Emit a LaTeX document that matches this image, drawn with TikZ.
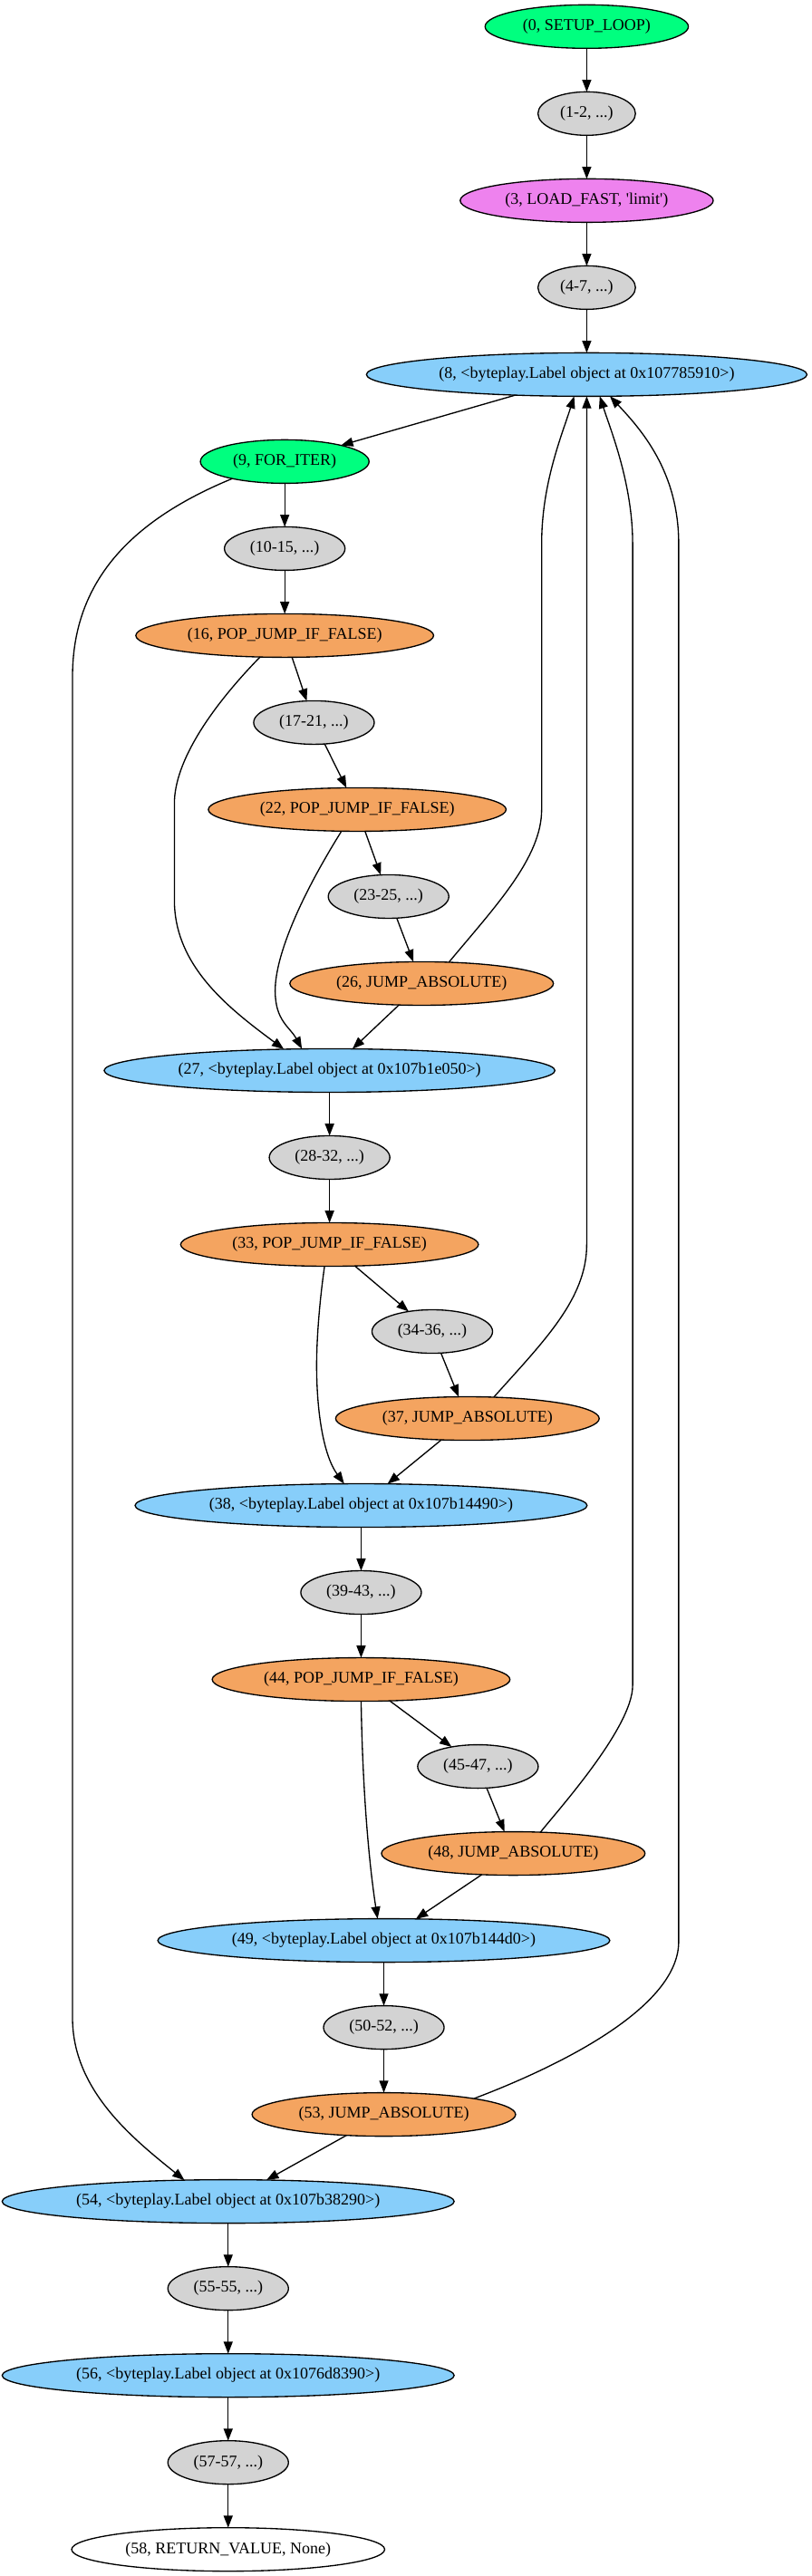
\documentclass[tikz,border=0pt]{standalone}
\usepackage{fontspec}
\setmainfont{Liberation Serif}
\usepackage{xcolor}
\usepackage{tikz}
\usetikzlibrary{positioning, shapes.geometric, arrows.meta}

\definecolor{springop}{HTML}{00FF7F}
\definecolor{loadcol}{HTML}{EE82EE}
\definecolor{labelcol}{HTML}{87CEFA}
\definecolor{jumpcol}{HTML}{F4A460}
\definecolor{blockcol}{HTML}{D3D3D3}

\begin{document}
\begin{tikzpicture}[x=1pt, y=-1pt, node distance=36pt, line width=1pt, >={Triangle[length=10pt,width=7.5pt]},
    every node/.style={draw, ellipse, minimum height=36pt, minimum width=54pt, inner xsep=6.6pt, inner ysep=2pt,
        outer sep=0pt, font=\fontsize{13.5pt}{16pt}\selectfont},
    loopop/.style={fill=springop}, loadop/.style={fill=loadcol}, blk/.style={fill=blockcol},
    lbl/.style={fill=labelcol}, jmp/.style={fill=jumpcol}, retop/.style={fill=white}]
            \useasboundingbox (0,0) rectangle (671.25,2132);
            % Nodes
            \node[loopop] (setuploop) at (485.5,22) {(0, SETUP\_LOOP)};
            \node[blk, below=of setuploop] (blk1) {(1-2, ...)};
            \node[loadop, below=of blk1] (loadfast) {(3, LOAD\_FAST, \textquotesingle limit\textquotesingle)};
            \node[blk, below=of loadfast] (blk4) {(4-7, ...)};
            \node[lbl, below=of blk4] (label8) {(8, <byteplay.Label object at 0x107785910>)};
            \node[loopop, below=of label8, xshift=-249.9pt] (foriter) {(9, FOR\_ITER)};
            \node[blk, below=of foriter] (blk10) {(10-15, ...)};
            \node[jmp, below=of blk10] (pop16) {(16, POP\_JUMP\_IF\_FALSE)};
            \node[blk, below=of pop16, xshift=24.2pt] (blk17) {(17-21, ...)};
            \node[jmp, below=of blk17, xshift=35.8pt] (pop22) {(22, POP\_JUMP\_IF\_FALSE)};
            \node[blk, below=of pop22, xshift=25.9pt] (blk23) {(23-25, ...)};
            \node[jmp, below=of blk23, xshift=27.4pt] (jump26) {(26, JUMP\_ABSOLUTE)};
            \node[lbl, below=of jump26, xshift=-76.2pt] (label27) {(27, <byteplay.Label object at 0x107b1e050>)};
            \node[blk, below=of label27] (blk28) {(28-32, ...)};
            \node[jmp, below=of blk28] (pop33) {(33, POP\_JUMP\_IF\_FALSE)};
            \node[blk, below=of pop33, xshift=85pt] (blk34) {(34-36, ...)};
            \node[jmp, below=of blk34, xshift=29.1pt] (jump37) {(37, JUMP\_ABSOLUTE)};
            \node[lbl, below=of jump37, xshift=-88pt] (label38) {(38, <byteplay.Label object at 0x107b14490>)};
            \node[blk, below=of label38] (blk39) {(39-43, ...)};
            \node[jmp, below=of blk39] (pop44) {(44, POP\_JUMP\_IF\_FALSE)};
            \node[blk, below=of pop44, xshift=96.7pt] (blk45) {(45-47, ...)};
            \node[jmp, below=of blk45, xshift=29.2pt] (jump48) {(48, JUMP\_ABSOLUTE)};
            \node[lbl, below=of jump48, xshift=-107.1pt] (label49) {(49, <byteplay.Label object at 0x107b144d0>)};
            \node[blk, below=of label49] (blk50) {(50-52, ...)};
            \node[jmp, below=of blk50] (jump53) {(53, JUMP\_ABSOLUTE)};
            \node[lbl, below=of jump53, xshift=-128.8pt] (label54) {(54, <byteplay.Label object at 0x107b38290>)};
            \node[blk, below=of label54] (blk55) {(55-55, ...)};
            \node[lbl, below=of blk55] (label56) {(56, <byteplay.Label object at 0x1076d8390>)};
            \node[blk, below=of label56] (blk57) {(57-57, ...)};
            \node[retop, below=of blk57] (ret) {(58, RETURN\_VALUE, None)};

            % Arrows
            \draw[->] (setuploop) -- (blk1);
            \draw[->] (blk1) -- (loadfast);
            \draw[->] (loadfast) -- (blk4);
            \draw[->] (blk4) -- (label8);
            \draw[->] (label8) -- (foriter);
            \draw[->] (foriter) -- (blk10);
            \draw[->] (blk10) -- (pop16);
            \draw[->] (pop16) -- (blk17);
            \draw[->] (blk17) -- (pop22);
            \draw[->] (pop22) -- (blk23);
            \draw[->] (blk23) -- (jump26);
            \draw[->] (jump26) -- (label27);
            \draw[->] (label27) -- (blk28);
            \draw[->] (blk28) -- (pop33);
            \draw[->] (pop33) -- (blk34);
            \draw[->] (blk34) -- (jump37);
            \draw[->] (jump37) -- (label38);
            \draw[->] (label38) -- (blk39);
            \draw[->] (blk39) -- (pop44);
            \draw[->] (pop44) -- (blk45);
            \draw[->] (blk45) -- (jump48);
            \draw[->] (jump48) -- (label49);
            \draw[->] (label49) -- (blk50);
            \draw[->] (blk50) -- (jump53);
            \draw[->] (jump53) -- (label54);
            \draw[->] (label54) -- (blk55);
            \draw[->] (blk55) -- (label56);
            \draw[->] (label56) -- (blk57);
            \draw[->] (blk57) -- (ret);

            % Branches down to the labels
            \draw[->] (foriter.198) .. controls (110,430) and (60,480) .. (60,560) -- (60,1670)
                .. controls (60,1730) and (110,1770) .. (label54.154);
            \draw[->] (pop16.221) .. controls (175,585) and (144.3,630) .. (144.3,665) -- (144.3,745)
                .. controls (144.3,800) and (190,835) .. (label27.155);
            \draw[->] (pop22.234) .. controls (250,740) and (227.7,790) .. (227.7,820)
                .. controls (227.7,845) and (240,850) .. (label27.142);
            \draw[->] (pop33.257) .. controls (264,1080) and (262,1110) .. (262,1130)
                .. controls (262,1170) and (268,1205) .. (label38.128);
            \draw[->] (pop44.270) .. controls (300,1480) and (305,1540) .. (label49.106);

            % Jumps back up to the loop head
            \draw[->] (jump26.38) .. controls (410,750) and (448.2,710) .. (448.2,670) -- (448.2,450)
                .. controls (448.2,400) and (465,360) .. (label8.240);
            \draw[->] (jump37.39) .. controls (450,1110) and (485.5,1075) .. (485.5,1030) -- (label8.south);
            \draw[->] (jump48.38) .. controls (460,1500) and (523.5,1430) .. (523.5,1395) -- (523.5,450)
                .. controls (523.5,400) and (505,355) .. (label8.301);
            \draw[->] (jump53.10) .. controls (450,1715) and (561.6,1665) .. (561.6,1607) -- (561.6,450)
                .. controls (561.6,390) and (530,355) .. (label8.317);
\end{tikzpicture}
\end{document}
